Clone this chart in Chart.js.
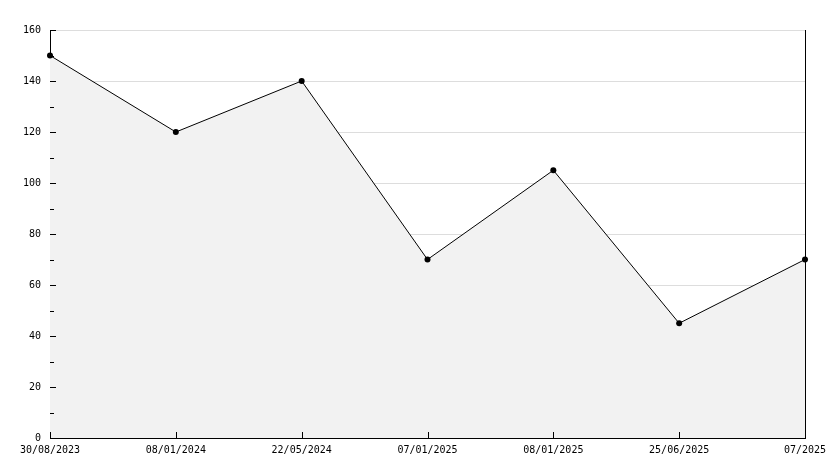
<!DOCTYPE html>
<html>
<head>
<meta charset="utf-8">
<script src="https://cdn.jsdelivr.net/npm/chart.js@4"></script>
<style>
  html, body { margin: 0; padding: 0; background: #fff; }
  #wrap { width: 834px; height: 468px; }
</style>
</head>
<body>
<div id="wrap"><canvas id="lineChart"></canvas></div>
<script>
let dates = ['30/08/2023', '08/01/2024', '22/05/2024', '07/01/2025', '08/01/2025', '25/06/2025', '07/2025'];
let values = [150, 120, 140, 70, 105, 45, 70];
let yTicks = [0, 20, 40, 60, 80, 100, 120, 140, 160];

let font = { family: 'DejaVu Sans Mono', size: 10 };

// short tick marks on the inner side of the axes, plus the right border
let innerTicks = {
    id: 'innerTicks',
    afterDraw(chart) {
        let c = chart.ctx;
        let area = chart.chartArea;
        let x = chart.scales.x, y = chart.scales.y;
        c.save();
        c.strokeStyle = '#000';
        c.lineWidth = 1;
        c.beginPath();
        y.ticks.forEach(t => {
            let py = Math.round(y.getPixelForValue(t.value)) + 0.5;
            let len = t.value % 20 === 0 ? 6 : 4;
            c.moveTo(area.left, py);
            c.lineTo(area.left + len, py);
        });
        dates.forEach((d, i) => {
            let px = Math.round(x.getPixelForValue(i)) + 0.5;
            c.moveTo(px, area.bottom);
            c.lineTo(px, area.bottom - 6);
        });
        let rx = Math.round(area.right) + 0.5;
        c.moveTo(rx, area.top);
        c.lineTo(rx, area.bottom);
        c.stroke();
        c.restore();
    }
};

let lineChart = new Chart(document.getElementById('lineChart'), {
    type: 'line',
    data: {
        labels: dates,
        datasets: [{
            data: values,
            borderColor: '#000',
            borderWidth: 1,
            backgroundColor: '#f2f2f2',
            fill: 'origin',
            tension: 0,
            pointRadius: 3,
            pointBackgroundColor: '#000',
            pointBorderColor: '#000',
            pointBorderWidth: 0
        }]
    },
    options: {
        responsive: true,
        maintainAspectRatio: false,
        animation: false,
        layout: { padding: { top: 30, right: 29, left: 0, bottom: 0 } },
        plugins: { legend: { display: false }, tooltip: { enabled: false } },
        scales: {
            x: {
                offset: false,
                grid: { display: false, drawTicks: false },
                border: { display: true, color: '#000', width: 1 },
                ticks: { font: font, color: '#000', padding: 6, maxRotation: 0, autoSkip: false },
                afterFit(scale) { scale.height = 30; }
            },
            y: {
                min: 0,
                max: 160,
                grid: {
                    drawTicks: false,
                    color: ctx => (ctx.tick && yTicks.includes(ctx.tick.value) && ctx.tick.value !== 0) ? '#dddddd' : 'rgba(0,0,0,0)'
                },
                border: { display: true, color: '#000', width: 1 },
                ticks: {
                    stepSize: 10,
                    font: font,
                    color: '#000',
                    padding: 9,
                    callback: v => yTicks.includes(v) ? String(v) : ''
                },
                afterFit(scale) { scale.width = 50; }
            }
        }
    },
    plugins: [innerTicks]
});
</script>
</body>
</html>
